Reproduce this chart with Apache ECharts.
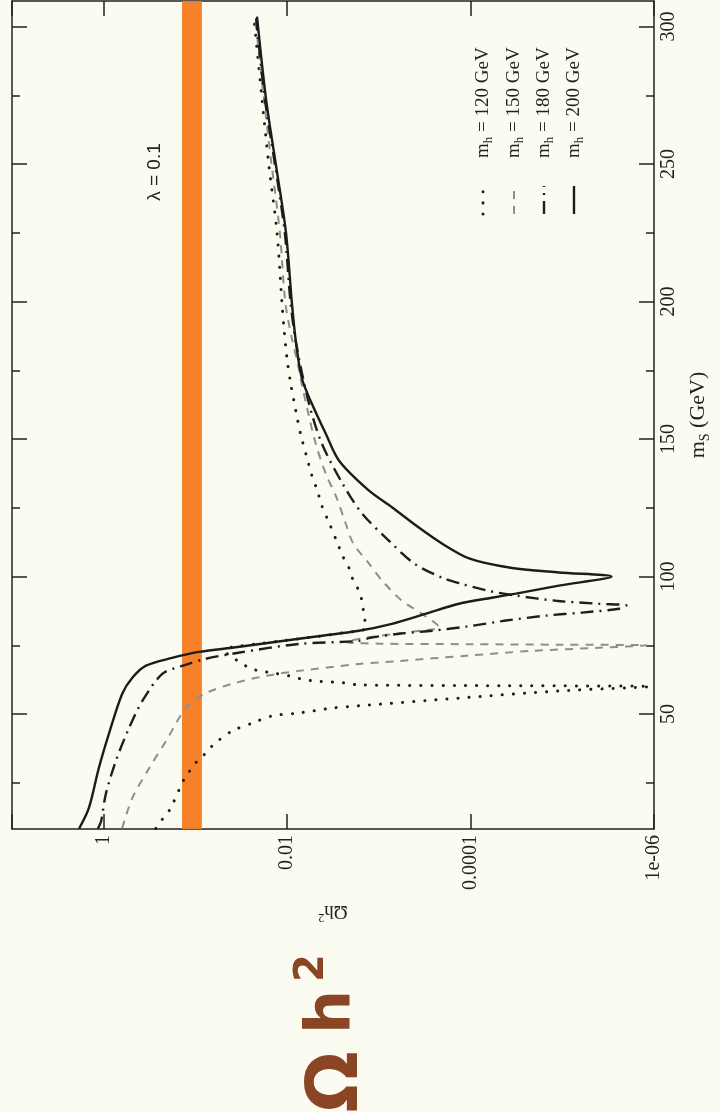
<!DOCTYPE html>
<html>
<head>
<meta charset="utf-8">
<title>Omega h^2 vs m_S</title>
<script src="https://cdn.jsdelivr.net/npm/echarts@6/dist/echarts.min.js"></script>
<style>
  html, body { margin: 0; padding: 0; background: #fcfbf2; }
  #main { width: 720px; height: 1112px; }
</style>
</head>
<body>
<div id="main"></div>
<script>
// values: m_S (GeV) and Omega h^2, one pair of arrays per Higgs mass
const mS120 = [8.4, 11.7, 15.3, 22.6, 26.3, 29.9, 32.8, 35.8, 39.0, 43.8, 46.7, 49.3, 50.4, 52.2, 53.0, 55.8, 58.4, 60.0, 60.3, 60.6,
  61.3, 62.0, 62.7, 63.9, 65.0, 65.7, 66.8, 69.3, 71.0, 73.5, 74.5, 77.4, 79.5, 81.4, 86.5, 91.2, 94.9, 98.5, 102.9, 107.7,
  113.1, 119.7, 125.9, 131.4, 136.9, 144.2, 151.5, 159.9, 169.7, 178.8, 189.8, 199.6, 225.2, 249.3, 273.7, 302.9];
const omega120 = [0.27, 0.23, 0.19, 0.15, 0.133, 0.112, 0.096, 0.077, 0.063, 0.040, 0.024, 0.0147, 0.0074, 0.0032, 0.00165, 0.000134, 0.0000109, 0.0000011, 0.00004, 0.00165,
  0.0023, 0.0049, 0.0069, 0.0095, 0.0147, 0.0203, 0.026, 0.034, 0.043, 0.047, 0.036, 0.0074, 0.0025, 0.00138, 0.00146, 0.00153, 0.00165, 0.0019, 0.0021, 0.0025,
  0.0029, 0.0035, 0.0042, 0.0047, 0.0054, 0.0062, 0.0071, 0.0080, 0.0091, 0.0100, 0.0108, 0.0114, 0.0129, 0.0158, 0.0188, 0.023];

const mS150 = [8.4, 19.3, 30.3, 40.1, 52.2, 57.3, 61.0, 63.9, 65.7, 68.2, 69.3, 71.2, 73.0, 74.1, 75.0, 75.2, 75.4, 75.6, 76.2, 77.7,
  79.2, 80.5, 81.4, 86.5, 91.2, 98.5, 104.7, 112.0, 119.3, 128.8, 137.5, 148.5, 161.7, 169.7, 176.9, 186.7, 200, 225, 250, 275, 303];
const omega150 = [0.63, 0.49, 0.32, 0.21, 0.127, 0.080, 0.040, 0.017, 0.0074, 0.00165, 0.0006, 0.000112, 0.000021, 0.000004, 0.0000012, 0.00001, 0.0001, 0.001, 0.0023, 0.0014,
  0.00065, 0.00032, 0.00022, 0.00034, 0.00056, 0.00092, 0.00128, 0.0019, 0.0023, 0.0029, 0.0038, 0.0049, 0.0061, 0.0069, 0.0076, 0.0089, 0.0105, 0.0120, 0.0148, 0.0181, 0.0223];

const mS180 = [8.3, 10.9, 20.8, 32.8, 44.9, 54.7, 64.6, 67.5, 70.1, 72.3, 75.5, 76.6, 77.7, 79.2, 80.3, 81.8, 84.0, 85.8, 86.9, 88.3,
  89.5, 90.1, 91.2, 93.1, 94.9, 97.4, 99.6, 104.7, 113.1, 123.0, 133.9, 148.5, 163.1, 185.0, 200.0, 225.0, 249.3, 273.7, 303.0];
const omega180 = [1.16, 1.07, 0.95, 0.74, 0.53, 0.38, 0.23, 0.14, 0.077, 0.034, 0.0074, 0.00165, 0.00125, 0.0006, 0.00026, 0.000112, 0.000041, 0.000015, 0.0000061, 0.0000024,
  0.000002, 0.000004, 0.0000117, 0.000032, 0.000066, 0.000127, 0.000205, 0.00041, 0.00078, 0.00153, 0.0025, 0.0042, 0.0058, 0.0080, 0.0092, 0.0106, 0.0135, 0.0175, 0.0218];

const mS200 = [8.3, 15.9, 30.4, 42.7, 57.3, 63.1, 67.5, 70.4, 72.6, 74.1, 77.4, 80.3, 82.8, 86.5, 90.1, 92.3, 93.8, 96.7, 100.0, 101.5,
  103.3, 106.6, 112.0, 117.9, 125.2, 131.4, 142.0, 152.0, 163.0, 172.0, 185.0, 200.0, 225.2, 249.3, 273.7, 303.6];
const omega200 = [1.86, 1.45, 1.13, 0.88, 0.63, 0.49, 0.35, 0.18, 0.092, 0.040, 0.0074, 0.00165, 0.00072, 0.000306, 0.000134, 0.0000585, 0.000032, 0.0000109, 0.0000029, 0.0000109,
  0.000038, 0.000104, 0.000205, 0.00037, 0.00072, 0.0013, 0.0027, 0.0038, 0.0054, 0.0069, 0.0080, 0.0089, 0.0103, 0.0132, 0.0170, 0.0213];

const higgsMasses = ['120', '150', '180', '200'];
const msTicks = [50, 100, 150, 200, 250, 300];
const msMinorTicks = [25, 75, 125, 175, 225, 275];
const omegaTickValues = [1, 0.01, 0.0001, 0.000001];
const omegaTickLabels = ['1', '0.01', '0.0001', '1e-06'];
const wmapBand = [0.085, 0.14];

const curves = [[mS120, omega120], [mS150, omega150], [mS180, omega180], [mS200, omega200]];
const curveStyles = [
  { color: '#1c1c1c', width: 3, type: [0.1, 11], cap: 'round' },
  { color: '#8e8e8e', width: 2, type: [8, 7] },
  { color: '#1e1e1e', width: 2.4, type: [13, 6, 2, 6] },
  { color: '#1c1c1c', width: 2.4, type: 'solid' }
];

const ink = '#222';
const serif = '"Liberation Serif", "DejaVu Serif", serif';

const chart = echarts.init(document.getElementById('main'));

function omegaLabel(v) {
  const i = omegaTickValues.findIndex(t => Math.abs(Math.log10(v) - Math.log10(t)) < 1e-6);
  return i >= 0 ? omegaTickLabels[i] : '';
}

const xBase = {
  type: 'log',
  logBase: 100,
  min: 0.000001,
  max: 10,
  inverse: true,
  axisLine: { lineStyle: { color: ink, width: 1.5 } },
  axisTick: { inside: true, length: 15, lineStyle: { color: ink, width: 1.5 } },
  splitLine: { show: false },
  minorTick: { show: false }
};

const yBase = {
  type: 'value',
  min: 8.2,
  max: 309.3,
  splitLine: { show: false },
  axisLine: { lineStyle: { color: ink, width: 1.5 } }
};

const series = curves.map((c, i) => ({
  name: 'm_h = ' + higgsMasses[i] + ' GeV',
  type: 'line',
  xAxisIndex: 0,
  yAxisIndex: 0,
  showSymbol: false,
  symbol: 'none',
  smooth: 0.3,
  z: 3,
  lineStyle: curveStyles[i],
  data: c[1].map((v, k) => [v, c[0][k]])
}));

// highlighter band drawn on the print
series.unshift({
  type: 'line',
  data: [],
  z: 1,
  markArea: {
    silent: true,
    itemStyle: { color: '#f57a1c', opacity: 0.95 },
    data: [[{ xAxis: wmapBand[0] }, { xAxis: wmapBand[1] }]]
  }
});

// legend, rotated like the rest of the page
const legendX = [483, 514, 544, 574];
const graphics = [];
higgsMasses.forEach((mh, i) => {
  const s = curveStyles[i];
  graphics.push({
    type: 'line',
    shape: { x1: legendX[i], y1: 214, x2: legendX[i], y2: 186 },
    style: { stroke: s.color, lineWidth: s.width, lineDash: Array.isArray(s.type) ? s.type : null, lineCap: s.cap || 'butt' }
  });
  graphics.push({
    type: 'text',
    x: legendX[i],
    y: 158,
    rotation: Math.PI / 2,
    style: {
      text: '{m|m}{h|h}{t| = ' + mh + ' GeV}',
      align: 'left',
      verticalAlign: 'middle',
      fill: ink,
      rich: {
        m: { fontFamily: serif, fontSize: 19, fill: ink, lineHeight: 24 },
        h: { fontFamily: serif, fontSize: 13, fill: ink, verticalAlign: 'bottom', lineHeight: 24 },
        t: { fontFamily: serif, fontSize: 19, fill: ink, lineHeight: 24 }
      }
    }
  });
});
graphics.push({
  type: 'text',
  x: 155,
  y: 172,
  rotation: Math.PI / 2,
  style: { text: 'λ = 0.1', align: 'center', verticalAlign: 'middle', fill: ink, font: '19px "Liberation Sans", Arial, sans-serif' }
});
// handwritten note
const pen = '#8a4524';
graphics.push({
  type: 'text', x: 338, y: 1082, rotation: Math.PI / 2,
  style: { text: 'Ω', align: 'center', verticalAlign: 'middle', fill: pen, font: 'bold 72px "DejaVu Sans", sans-serif' }
});
graphics.push({
  type: 'text', x: 333, y: 1012, rotation: Math.PI / 2,
  style: { text: 'h', align: 'center', verticalAlign: 'middle', fill: pen, font: 'bold 62px "DejaVu Sans", sans-serif' }
});
graphics.push({
  type: 'text', x: 313, y: 968, rotation: Math.PI / 2,
  style: { text: '2', align: 'center', verticalAlign: 'middle', fill: pen, font: 'bold 40px "DejaVu Sans", sans-serif' }
});

chart.setOption({
  animation: false,
  backgroundColor: '#fcfbf2',
  grid: { left: 12, right: 65, top: 1, bottom: 283 },
  xAxis: [
    Object.assign({}, xBase, {
      position: 'bottom',
      axisLabel: { rotate: 90, margin: 6, color: ink, fontFamily: serif, fontSize: 20, formatter: omegaLabel },
      name: '{o|Ωh}{s|2}',
      nameLocation: 'middle',
      nameRotate: 180,
      nameGap: 70,
      nameTextStyle: {
        rich: {
          o: { fontFamily: serif, fontSize: 19, color: ink, lineHeight: 24 },
          s: { fontFamily: serif, fontSize: 12, color: ink, verticalAlign: 'top', lineHeight: 24 }
        }
      }
    }),
    Object.assign({}, xBase, { position: 'top', axisLabel: { show: false } })
  ],
  yAxis: [
    Object.assign({}, yBase, {
      position: 'right',
      axisTick: { customValues: msTicks, inside: true, length: 15, lineStyle: { color: ink, width: 1.5 } },
      axisLabel: { customValues: msTicks, rotate: 90, margin: 5, color: ink, fontFamily: serif, fontSize: 20 },
      name: '{m|m}{s|S}{g| (GeV)}',
      nameLocation: 'middle',
      nameRotate: 90,
      nameGap: 30,
      nameTextStyle: {
        rich: {
          m: { fontFamily: serif, fontSize: 22, color: ink, lineHeight: 28 },
          s: { fontFamily: serif, fontSize: 14, color: ink, verticalAlign: 'bottom', lineHeight: 28 },
          g: { fontFamily: serif, fontSize: 22, color: ink, lineHeight: 28 }
        }
      }
    }),
    Object.assign({}, yBase, {
      position: 'right',
      axisLine: { show: false },
      axisTick: { customValues: msMinorTicks, inside: true, length: 8, lineStyle: { color: ink, width: 1.5 } },
      axisLabel: { show: false }
    }),
    Object.assign({}, yBase, {
      position: 'left',
      axisTick: { customValues: msTicks, inside: true, length: 15, lineStyle: { color: ink, width: 1.5 } },
      axisLabel: { show: false }
    }),
    Object.assign({}, yBase, {
      position: 'left',
      axisLine: { show: false },
      axisTick: { customValues: msMinorTicks, inside: true, length: 8, lineStyle: { color: ink, width: 1.5 } },
      axisLabel: { show: false }
    })
  ],
  graphic: graphics,
  series: series
});
</script>
</body>
</html>
